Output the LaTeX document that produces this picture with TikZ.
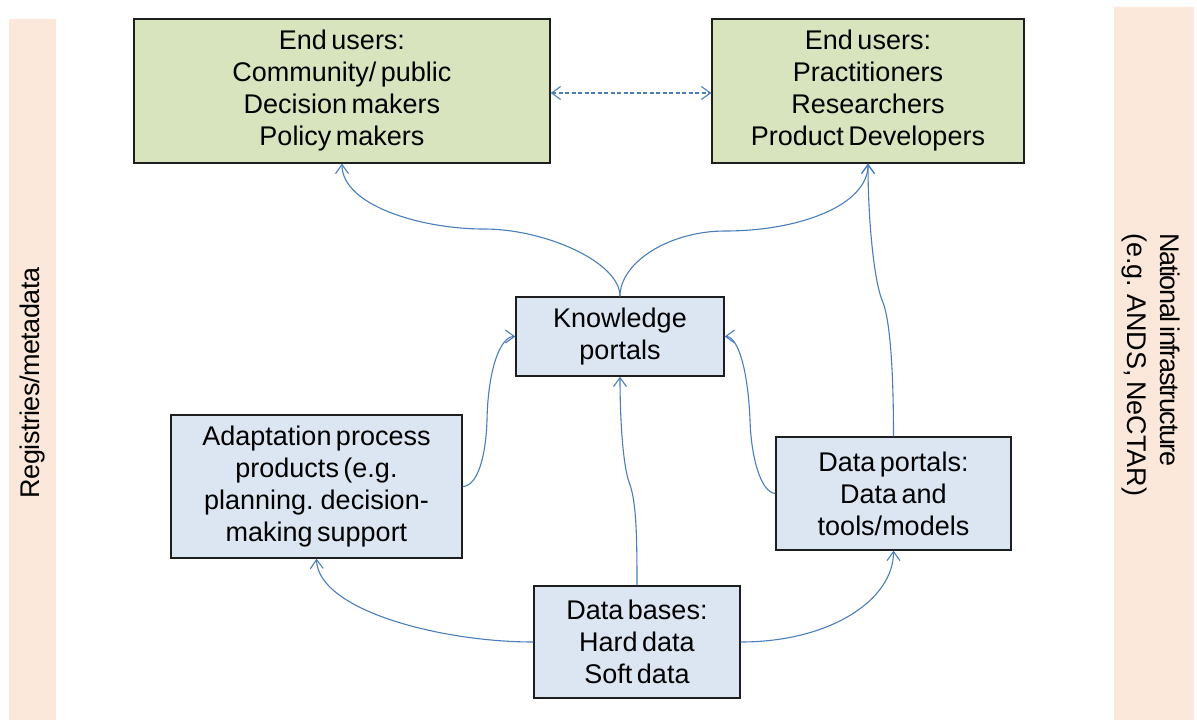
\documentclass[tikz,border=0pt]{standalone}
\usepackage{fontspec}
\setmainfont{Liberation Sans}[WordSpace=0.6]
\usetikzlibrary{arrows.meta}
\definecolor{band}{RGB}{252,232,218}
\definecolor{gfill}{RGB}{215,228,189}
\definecolor{bfill}{RGB}{220,230,242}
\definecolor{edge}{RGB}{30,30,30}
\definecolor{link}{RGB}{74,126,187}
\tikzset{
  box/.style={draw=edge, line width=1.4pt, align=center, inner sep=0pt,
              font=\fontsize{27}{32}\selectfont},
  gbox/.style={box, fill=gfill},
  bbox/.style={box, fill=bfill},
  side/.style={inner sep=0pt, font=\fontsize{27}{33}\selectfont},
  conn/.style={draw=link, line width=1.1pt, ->},
  dconn/.style={draw=link, line width=1.1pt, dash pattern=on 4pt off 2.5pt, <->},
}
\begin{document}
\begin{tikzpicture}[x=1pt, y=-1pt, >={Straight Barb[length=9pt,width=13pt,line width=1.1pt]}]
\useasboundingbox (0,0) rectangle (1197,720);
% side bands
\fill[band] (9,19) rectangle (56,720);
\fill[band] (1114,7) rectangle (1194,720);
\node[side, rotate=90] (reg) at (33,383) {\addfontfeatures{LetterSpace=-2}Registries/metadata};
\node[side, rotate=-90, anchor=west, align=left] (nat) at (1151,233)
  {{\addfontfeatures{LetterSpace=-5}National infrastructure}\\(e.g. ANDS, NeCTAR)};
% boxes
\node[gbox, minimum width=416pt, minimum height=144pt] (eu1) at (342,91)
  {End users:\\Community/ public\\Decision makers\\Policy makers};
\node[gbox, minimum width=312pt, minimum height=144pt] (eu2) at (868,91)
  {End users:\\Practitioners\\Researchers\\Product Developers};
\node[bbox, minimum width=208pt, minimum height=79pt] (kp) at (620,336.5)
  {Knowledge\\portals};
\node[bbox, minimum width=291pt, minimum height=143pt] (ad) at (316.5,486.5)
  {Adaptation process\\products (e.g.\\planning. decision-\\making support};
\node[bbox, minimum width=235pt, minimum height=113pt] (dp) at (893.5,493.5)
  {Data portals:\\Data and\\tools/models};
\node[bbox, minimum width=206pt, minimum height=112pt] (db) at (637,642)
  {Data bases:\\Hard data\\Soft data};
% connectors
\draw[dconn] ([yshift=-2pt]eu1.east) -- ([yshift=-2pt]eu2.west);
\draw[conn] (kp.north) .. controls (620,262) and (545,229) .. (484,229)
  .. controls (420,229) and (342,205) .. (eu1.south);
\draw[conn] (kp.north) .. controls (620,262) and (670,231) .. (725,231)
  .. controls (800,231) and (868,205) .. (eu2.south);
\draw[conn] (dp.north) .. controls (893.5,380) and (891,320) .. (882,300)
  .. controls (874,280) and (868,220) .. (eu2.south);
\draw[conn] (ad.east) .. controls (478,486) and (486,455) .. (487,420)
  .. controls (488,370) and (500,336.5) .. (kp.west);
\draw[conn] (dp.west) .. controls (760,492) and (751,455) .. (750,420)
  .. controls (748,370) and (738,336.5) .. (kp.east);
\draw[conn] (db.north) .. controls (637,530) and (636,500) .. (629,482)
  .. controls (623,465) and (620,420) .. (kp.south);
\draw[conn] (db.west) .. controls (440,642) and (318,610) .. (ad.south);
\draw[conn] (db.east) .. controls (830,642) and (893.5,600) .. (dp.south);
\end{tikzpicture}
\end{document}
